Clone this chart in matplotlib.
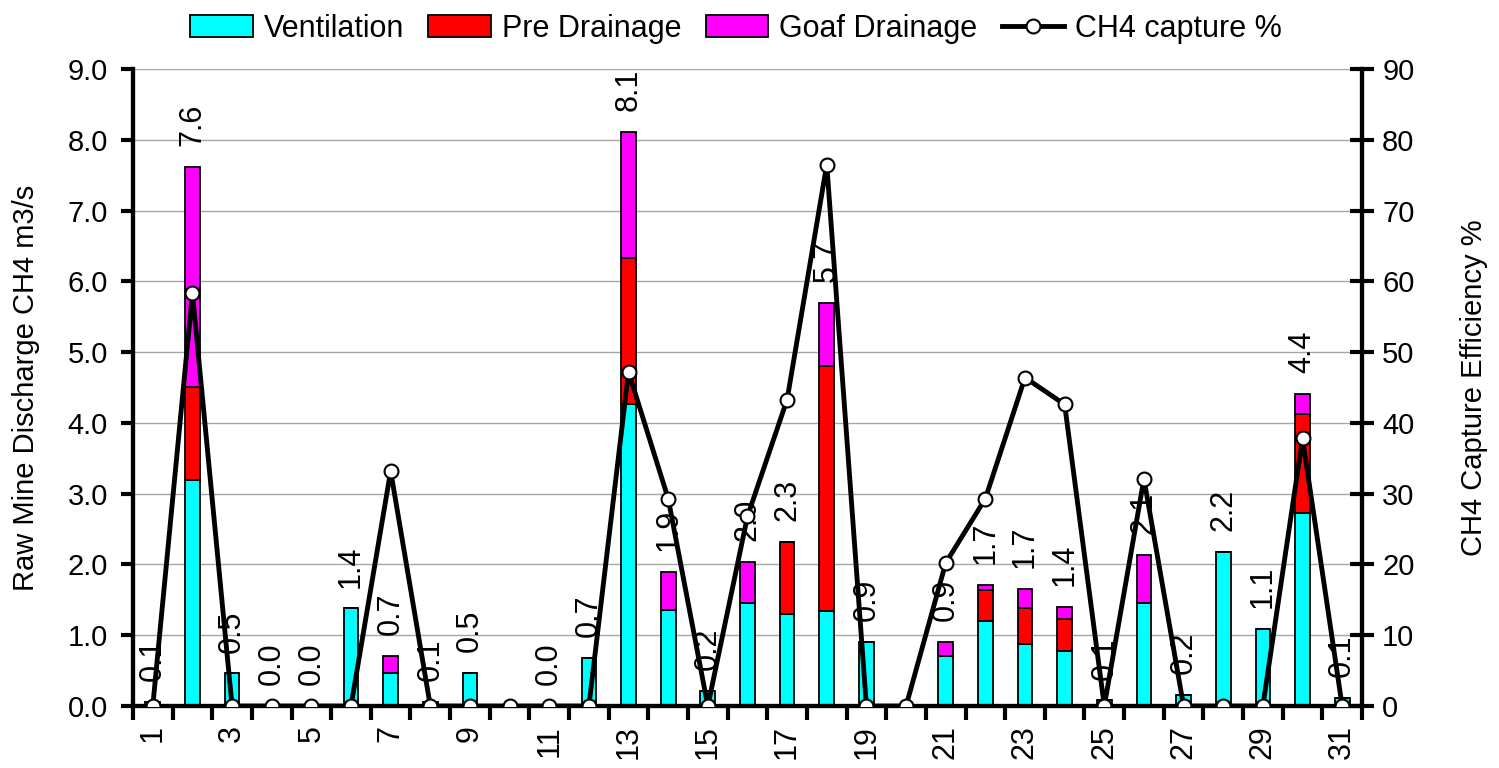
import numpy as np
import matplotlib.pyplot as plt
from matplotlib.ticker import MultipleLocator

plt.rcParams['font.family'] = ['Liberation Sans', 'DejaVu Sans']

# Daily data (days 10 and 20 have no discharge record)
days = np.arange(1, 32)
nan = np.nan
ventilation = [0.06, 3.19, 0.46, 0.0, 0.0, 1.38, 0.46, 0.06, 0.47, nan,
               0.0, 0.68, 4.27, 1.35, 0.21, 1.46, 1.30, 1.34, 0.91, nan,
               0.70, 1.20, 0.88, 0.78, 0.08, 1.45, 0.16, 2.18, 1.09, 2.73, 0.12]
pre_drainage = [0, 1.32, 0, 0, 0, 0, 0, 0, 0, nan,
                0, 0, 2.06, 0, 0, 0, 1.02, 3.46, 0, nan,
                0, 0.44, 0.50, 0.45, 0, 0, 0, 0, 0, 1.40, 0]
goaf_drainage = [0, 3.11, 0, 0, 0, 0, 0.25, 0, 0, nan,
                 0, 0, 1.78, 0.54, 0, 0.58, 0, 0.90, 0, nan,
                 0.21, 0.07, 0.28, 0.17, 0, 0.68, 0, 0, 0, 0.28, 0]
capture = [0, 58.3, 0, 0, 0, 0, 33.2, 0, 0, 0,
           0, 0, 47.2, 29.3, 0, 26.8, 43.3, 76.5, 0, 0,
           20.2, 29.3, 46.4, 42.6, 0, 32.1, 0, 0, 0, 37.8, 0]

vent = np.array(ventilation)
pre = np.array(pre_drainage)
goaf = np.array(goaf_drainage)
total = vent + pre + goaf

fig = plt.figure(figsize=(14.99, 7.68), dpi=100)
ax = fig.add_axes([0.0887, 0.0807, 0.8199, 0.8295])

w = 0.37
ax.bar(days, vent, w, color='#00ffff', edgecolor='black', linewidth=1.3, label='Ventilation', zorder=2)
ax.bar(days, pre, w, bottom=vent, color='#ff0000', edgecolor='black', linewidth=1.3, label='Pre Drainage', zorder=2)
ax.bar(days, goaf, w, bottom=vent + pre, color='#ff00ff', edgecolor='black', linewidth=1.3, label='Goaf Drainage', zorder=2)

# total labels above the bars
for d, t in zip(days, total):
    if np.isnan(t):
        continue
    ax.annotate('%.1f' % t, (d, t), xytext=(0, 15), textcoords='offset points',
                rotation=90, ha='center', va='bottom', fontsize=22, zorder=3,
                annotation_clip=False)

ax.set_xlim(0.5, 31.5)
ax.set_ylim(0, 9)
ax.yaxis.set_major_locator(MultipleLocator(1))
ax.yaxis.set_major_formatter(lambda v, p: '%.1f' % v)
ax.grid(axis='y', color='#a6a6a6', linewidth=1, zorder=0)
ax.set_axisbelow(True)

ax.set_xticks(days[::2])
ax.set_xticklabels([str(d) for d in days[::2]], rotation=90, va='top')
ax.set_xticks(np.arange(0.5, 32, 1), minor=True)
ax.tick_params(axis='x', which='major', length=0, labelsize=22, pad=14)
ax.tick_params(axis='x', which='minor', length=10, width=3, direction='out')
ax.tick_params(axis='y', length=9, width=3, direction='out', labelsize=21, pad=9)

for s in ['left', 'bottom', 'right']:
    ax.spines[s].set_linewidth(3)
ax.spines['top'].set_visible(False)
ax.set_ylabel('Raw Mine Discharge CH4 m3/s', fontsize=21, labelpad=20)

ax2 = ax.twinx()
ax2.plot(days, capture, color='black', linewidth=3.5, marker='o', markersize=10,
         markerfacecolor='white', markeredgecolor='black', markeredgewidth=1.5,
         label='CH4 capture %', zorder=4)
ax2.set_ylim(0, 90)
ax2.yaxis.set_major_locator(MultipleLocator(10))
ax2.tick_params(axis='y', length=17, width=3, direction='inout', labelsize=21, pad=6)
for s in ['left', 'bottom', 'right']:
    ax2.spines[s].set_linewidth(3)
ax2.spines['top'].set_visible(False)
ax2.set_ylabel('CH4 Capture Efficiency %', fontsize=21, labelpad=33)

h1, l1 = ax.get_legend_handles_labels()
h2, l2 = ax2.get_legend_handles_labels()
fig.legend(h1 + h2, l1 + l2, loc='upper center', bbox_to_anchor=(0.491, 1.018),
           ncol=4, frameon=False, fontsize=22, handlelength=2.05,
           handletextpad=0.35, columnspacing=0.8)

fig.savefig('out.png', dpi=100)
